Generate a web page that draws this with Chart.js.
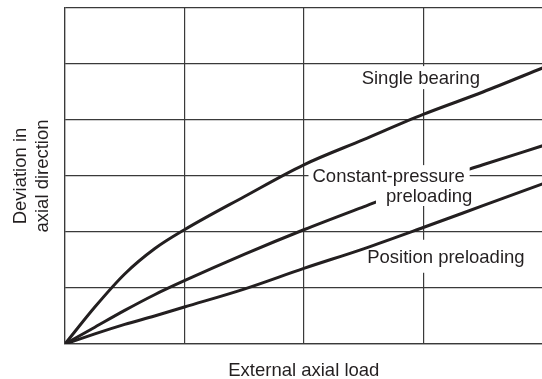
<!DOCTYPE html>
<html>
<head>
<meta charset="utf-8">
<script src="https://cdn.jsdelivr.net/npm/chart.js@4.4.1/dist/chart.umd.min.js"></script>
<style>
  html, body { margin: 0; padding: 0; background: #fff; overflow: hidden; }
  #wrap { position: relative; width: 560px; height: 379px; }
</style>
</head>
<body>
<div id="wrap"><canvas id="deflectionChart"></canvas></div>
<script>
// load in grid units (0..4), deviation in grid units (0..6)
var loadSteps = [0, 0.25, 0.5, 0.75, 1, 1.5, 2, 2.5, 3, 3.5, 4];
var singleBearing = [0, 0.66, 1.25, 1.7, 2.04, 2.63, 3.2, 3.65, 4.1, 4.5, 4.93];
var constantPressure = [0, 0.3, 0.6, 0.88, 1.13, 1.6, 2.04, 2.45, 2.85, 3.2, 3.54];
var positionPreload = [0, 0.18, 0.35, 0.5, 0.66, 0.98, 1.35, 1.7, 2.08, 2.47, 2.86];

var seriesNames = ['Single bearing', 'Constant-pressure preloading', 'Position preloading'];
var curveLabels = [['Single bearing'], ['Constant-pressure', 'preloading'], ['Position preloading']];
var xAxisTitle = 'External axial load';
var yAxisTitle = ['Deviation in', 'axial direction'];

const INK = '#231f20';
const GRID = '#3a3a3a';
const FONT = '"Liberation Sans", Arial, Helvetica, sans-serif';

function toPoints(values) {
    return values.map((v, i) => ({ x: loadSteps[i], y: v }));
}

function getDataSetEntry(label, values) {
    return {
        label,
        data: toPoints(values),
        borderColor: INK,
        borderWidth: 3,
        pointRadius: 0,
        fill: false,
        cubicInterpolationMode: 'monotone',
        borderCapStyle: 'round',
    };
}

// where each curve label sits (data units) and how much white it knocks out;
// overCurves: the white box also hides the curves, not just the grid
var labelSpots = [
    [{ x: 2.98, y: 4.73, pad: [4, 4, 13, 10], overCurves: true }],
    [
        { x: 2.71, y: 2.98, pad: [4, 5, 12, 12], overCurves: true },
        { x: 3.05, y: 2.625, pad: [10, 2, 11, 9], overCurves: true },
    ],
    [{ x: 3.19, y: 1.54, pad: [4, 4, 18, 15], overCurves: false }],
];

function eachLabel(chart, fn) {
    const xs = chart.scales.x;
    const ys = chart.scales.y;
    curveLabels.forEach((lines, i) => {
        lines.forEach((text, j) => {
            const spot = labelSpots[i][j];
            fn(text, spot, xs.getPixelForValue(spot.x), ys.getPixelForValue(spot.y));
        });
    });
}

function knockOut(chart, wantOver) {
    const ctx = chart.ctx;
    ctx.save();
    ctx.font = '18.5px ' + FONT;
    ctx.fillStyle = '#fff';
    eachLabel(chart, (text, spot, px, py) => {
        if (spot.overCurves !== wantOver) return;
        const w = ctx.measureText(text).width;
        const [pl, pr, pt, pb] = spot.pad;
        ctx.fillRect(px - w / 2 - pl, py - pt, w + pl + pr, pt + pb);
    });
    ctx.restore();
}

const curveLabelPlugin = {
    id: 'curveLabels',
    beforeDatasetsDraw(chart) {
        knockOut(chart, false);
    },
    afterDatasetsDraw(chart) {
        knockOut(chart, true);
        const ctx = chart.ctx;
        ctx.save();
        ctx.font = '18.5px ' + FONT;
        ctx.textAlign = 'center';
        ctx.textBaseline = 'middle';
        ctx.fillStyle = INK;
        eachLabel(chart, (text, spot, px, py) => {
            ctx.fillText(text, px, py);
        });
        ctx.restore();
    },
};

var chartData = {
    datasets: [
        getDataSetEntry(seriesNames[0], singleBearing),
        getDataSetEntry(seriesNames[1], constantPressure),
        getDataSetEntry(seriesNames[2], positionPreload),
    ],
};

var gridOpts = { color: GRID, lineWidth: 1.2, drawTicks: false };
var borderOpts = { display: true, color: GRID, width: 1.2 };

var ctx = document.getElementById('deflectionChart').getContext('2d');
new Chart(ctx, {
    type: 'line',
    data: chartData,
    plugins: [curveLabelPlugin],
    options: {
        responsive: true,
        maintainAspectRatio: false,
        animation: false,
        layout: { padding: { top: 8, right: 17.4, left: 0, bottom: 0 } },
        plugins: { legend: { display: false }, tooltip: { enabled: false } },
        scales: {
            x: {
                type: 'linear',
                min: 0,
                max: 4,
                ticks: { display: false, stepSize: 1 },
                grid: gridOpts,
                border: borderOpts,
                afterFit: (scale) => { scale.height = 35; },
                title: {
                    display: true,
                    text: xAxisTitle,
                    color: INK,
                    font: { family: FONT, size: 18.5, lineHeight: 0.85 },
                    padding: { top: 0, bottom: 0 },
                },
            },
            y: {
                type: 'linear',
                min: 0,
                max: 6,
                ticks: { display: false, stepSize: 1 },
                grid: gridOpts,
                border: borderOpts,
                afterFit: (scale) => { scale.width = 65; },
                title: {
                    display: true,
                    text: yAxisTitle,
                    color: INK,
                    font: { family: FONT, size: 18.5, lineHeight: 1.19 },
                    padding: { top: 10, bottom: 0 },
                },
            },
        },
    },
});
</script>
</body>
</html>
